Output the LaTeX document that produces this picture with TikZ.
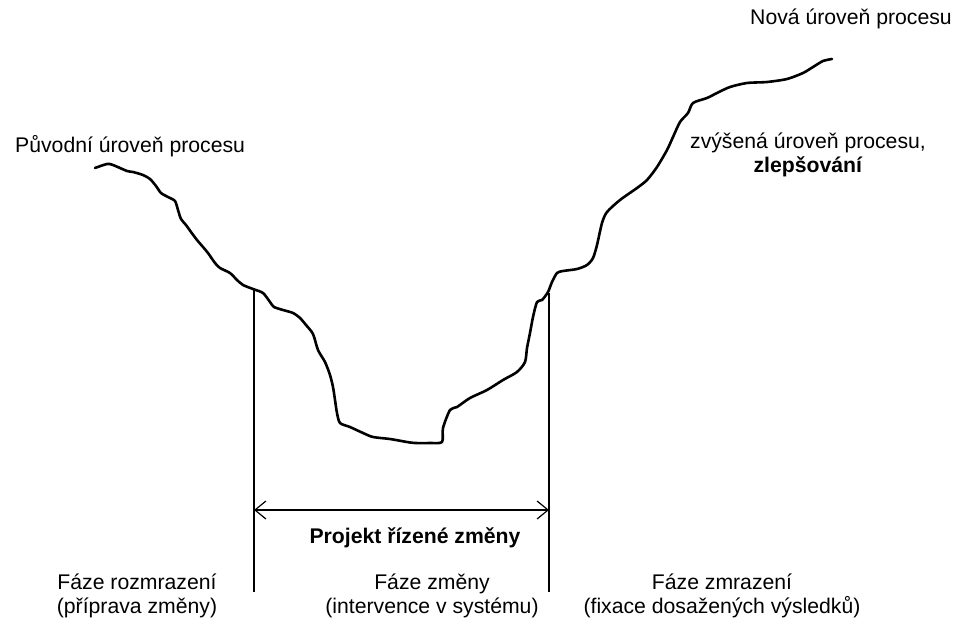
\documentclass[tikz,border=0pt]{standalone}
\usepackage{fontspec}
\setmainfont{Liberation Sans}
\usetikzlibrary{arrows.meta}
\tikzset{
  level/.style={line width=2.6pt,line join=round,line cap=round},
  phase/.style={line width=1.2pt},
  lbl/.style={inner sep=0pt,font=\fontsize{21.2}{24}\selectfont},
  phaselbl/.style={lbl,align=center,anchor=north},
}
\begin{document}
\begin{tikzpicture}[>={Straight Barb[length=11pt,width=18pt,line width=1.2pt]},x=1pt,y=-1pt]
	\useasboundingbox (0,0) rectangle (957,623);
	%	\draw[color=gray,dash pattern=on 1pt off 1pt,step=50] (0,0) grid (957,623);
	\draw[level] plot[smooth,tension=0.45] coordinates {
		(95,168) (107,164) (113,165) (127,171) (133,172) (143,175) (150,179) (156,186)
		(161,193) (168,197) (175,201) (178,210) (181,219) (186,225) (191,232) (197,240)
		(203,247) (208,253) (215,263) (220,268) (230,273) (237,280) (243,285) (253,289)
		(263,293) (270,302) (274,307) (283,310) (293,313) (300,318) (306,325) (313,334)
		(318,350) (325,362) (330,375) (333,387) (335,400) (337,413) (340,423) (350,427)
		(363,433) (373,437) (390,439) (407,442) (415,443) (430,443) (442,442) (443,428)
		(450,410) (457,407) (470,398) (487,390) (503,380) (517,372) (525,362) (527,348)
		(530,333) (533,317) (537,302) (542,300) (548,292) (552,282) (557,273) (563,271)
		(577,269) (587,265) (593,258) (597,245) (602,223) (607,212) (620,200) (637,188)
		(647,180) (657,167) (667,150) (673,137) (680,122) (688,113) (693,103) (707,98)
		(717,93) (730,87) (747,83) (767,82) (787,79) (803,73) (813,67) (823,61) (832,59)};
	% phase borders
	\coordinate (unfreeze) at (254,289);
	\coordinate (unfreezeend) at (254,592);
	\coordinate (refreeze) at (549,293);
	\coordinate (refreezeend) at (549,592);
	\draw[phase] (unfreeze)--(unfreezeend);
	\draw[phase] (refreeze)--(refreezeend);
	\coordinate (projstart) at (254,510);
	\coordinate (projend) at (549,510);
	\draw[phase,<->] (projstart)--(projend);
	\node[lbl,font=\fontsize{21.2}{24}\selectfont\bfseries,anchor=base] (project) at (415,543) {Projekt řízené změny};
	% levels
	\node[lbl,anchor=base west] (oldlevel) at (15,152) {Původní úroveň procesu};
	\node[lbl,anchor=base west] (newlevel) at (750,25) {Nová úroveň procesu};
	\node[lbl,align=center,anchor=north] (improve) at (808,133) {zvýšená úroveň procesu,\\\textbf{zlepšování}};
	% phases
	\node[phaselbl] (unfreezelbl) at (137,574) {Fáze rozmrazení\\(příprava změny)};
	\node[phaselbl] (changelbl) at (432,574) {Fáze změny\\(intervence v systému)};
	\node[phaselbl] (refreezelbl) at (722,574) {Fáze zmrazení\\(fixace dosažených výsledků)};
\end{tikzpicture}
\end{document}
